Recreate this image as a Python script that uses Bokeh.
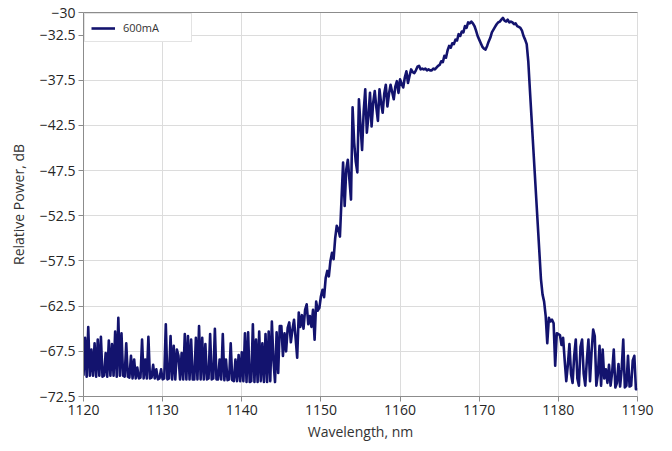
import numpy as np
from bokeh.plotting import figure
from bokeh.models import ColumnDataSource, FixedTicker, Legend, LegendItem, LinearAxis
from bokeh.embed import file_html
from bokeh.resources import INLINE

start_nm = 1120.0
step_nm = 0.2

# 1120.0 - 1144.8 nm : noise floor
noise_floor_db = [
    -70.2, -66.0, -70.3, -64.8, -70.2,
    -67.3, -70.2, -66.6, -70.3, -66.2,
    -70.2, -65.9, -70.3, -70.2, -67.7,
    -70.3, -66.3, -70.2, -66.7, -70.2,
    -65.3, -70.3, -63.8, -70.2, -65.5,
    -70.2, -70.3, -66.6, -70.3, -70.4,
    -68.0, -70.5, -68.4, -70.5, -69.3,
    -70.5, -70.4, -66.2, -70.5, -68.4,
    -70.5, -65.9, -70.5, -70.4, -69.0,
    -70.5, -69.5, -70.6, -70.5, -69.5,
    -70.6, -70.5, -64.5, -70.6, -70.5,
    -65.8, -70.6, -66.9, -70.6, -67.3,
    -68.0, -70.6, -67.7, -70.6, -65.6,
    -70.6, -65.8, -70.6, -66.2, -70.6,
    -70.6, -66.0, -70.6, -64.7, -70.6,
    -66.0, -70.6, -66.7, -70.6, -70.5,
    -65.6, -70.6, -70.5, -65.0, -70.6,
    -70.6, -68.4, -70.6, -65.6, -70.7,
    -68.4, -70.7, -70.6, -66.6, -70.7,
    -70.8, -68.4, -70.8, -67.9, -70.8,
    -67.6, -70.8, -65.5, -70.9, -65.4,
    -70.9, -70.8, -64.5, -70.9, -66.2,
    -70.9, -65.3, -70.8, -66.6, -70.9,
    -65.6, -70.9, -65.3, -70.8, -64.2,
    -68.5, -70.9, -65.4, -69.9, -64.7,
]

# 1145.0 - 1161.8 nm : rising edge with ripples
rising_edge_db = [
    -64.7, -68.0, -65.5, -67.5, -64.9,
    -64.3, -66.5, -65.1, -64.0, -66.0,
    -68.2, -63.2, -64.8, -63.5, -65.0,
    -62.9, -62.3, -64.5, -63.6, -64.8,
    -62.9, -66.2, -62.0, -63.0, -62.7,
    -61.4, -60.7, -61.5, -59.4, -58.6,
    -59.2, -57.5, -56.6, -57.3, -55.0,
    -53.6, -54.0, -54.8, -50.7, -46.6,
    -51.4, -47.4, -46.3, -48.5, -50.7,
    -40.5, -44.4, -46.5, -47.7, -39.6,
    -42.5, -45.2, -41.0, -38.5, -43.3,
    -41.5, -38.9, -42.6, -40.0, -38.7,
    -40.5, -42.0, -38.5, -40.0, -41.1,
    -39.0, -38.0, -40.4, -39.0, -38.0,
    -38.8, -39.6, -38.2, -37.6, -38.9,
    -37.4, -37.9, -38.3, -37.2, -36.5,
    -37.8, -37.0, -36.3, -36.6, -36.7,
]

# 1162.0 - 1176.8 nm : top of the band with two peaks
band_top_db = [
    -36.4, -36.0, -35.9, -36.3, -36.2,
    -36.3, -36.2, -36.4, -36.3, -36.4,
    -36.4, -36.2, -36.3, -36.1, -35.9,
    -35.8, -35.4, -35.5, -34.8, -35.0,
    -34.2, -33.7, -33.9, -33.4, -33.5,
    -33.0, -33.1, -32.4, -32.6, -32.1,
    -32.2, -31.5, -31.7, -31.1, -31.2,
    -31.0, -31.2, -31.5, -32.0, -32.6,
    -33.0, -33.4, -33.8, -34.0, -34.1,
    -33.7, -33.2, -32.8, -32.2, -31.9,
    -31.6, -31.3, -31.1, -31.0, -30.8,
    -30.6, -30.9, -31.0, -30.8, -31.1,
    -31.0, -31.1, -31.3, -31.2, -31.5,
    -31.6, -31.7, -32.0, -32.6, -33.0,
    -33.5, -35.4, -38.5, -41.5, -44.5,
]

# 1177.0 - 1190.0 nm : falling edge and noise floor
falling_edge_db = [
    -47.5, -50.5, -53.5, -56.5, -59.5,
    -61.2, -62.0, -63.6, -66.6, -63.8,
    -64.2, -64.0, -64.4, -69.1, -65.5,
    -65.6, -65.7, -66.8, -66.0, -68.5,
    -70.8, -69.0, -66.7, -70.0, -71.0,
    -68.0, -66.2, -70.5, -71.3, -67.0,
    -66.2, -70.0, -71.3, -68.5, -66.2,
    -70.8, -67.5, -65.1, -65.8, -71.3,
    -70.0, -66.9, -71.3, -67.3, -70.5,
    -69.5, -71.0, -69.0, -71.3, -69.8,
    -67.3, -71.5, -71.0, -68.9, -71.4,
    -69.5, -66.2, -71.5, -71.3, -68.0,
    -71.4, -71.3, -68.5, -68.0, -71.7,
    -71.7,
]

power_db = noise_floor_db + rising_edge_db + band_top_db + falling_edge_db
wavelength_nm = np.round(start_nm + step_nm * np.arange(len(power_db)), 2)

x_ticks = [1120, 1130, 1140, 1150, 1160, 1170, 1180, 1190]
y_ticks = [-30, -32.5, -37.5, -42.5, -47.5, -52.5, -57.5, -62.5, -67.5, -72.5]
series_label = "600mA"

LINE = "#13136e"
FONT = "Open Sans"

source = ColumnDataSource(data=dict(x=wavelength_nm, y=power_db))

p = figure(width=656, height=443, x_range=(1120, 1190), y_range=(-72.5, -30),
           output_backend="svg", toolbar_location=None,
           min_border_left=83, min_border_right=19, min_border_top=12, min_border_bottom=46,
           background_fill_color="white", border_fill_color="white")
p.outline_line_color = "#dcdcdc"

r = p.line("x", "y", source=source, line_color=LINE, line_width=2.6, line_join="round")

for ax in (p.xaxis[0], p.yaxis[0]):
    ax.axis_line_color = "#8c8c8c"
    ax.major_tick_line_color = "#8c8c8c"
    ax.major_tick_out = 5
    ax.major_tick_in = 0
    ax.minor_tick_line_color = None
    ax.major_label_text_font = FONT
    ax.major_label_text_font_size = "14px"
    ax.major_label_text_color = "#262626"
    ax.axis_label_text_font = FONT
    ax.axis_label_text_font_size = "14px"
    ax.axis_label_text_font_style = "normal"
    ax.axis_label_text_color = "#333333"

p.xaxis[0].ticker = FixedTicker(ticks=x_ticks)
p.yaxis[0].ticker = FixedTicker(ticks=y_ticks)
p.xaxis[0].axis_label = "Wavelength, nm"
p.yaxis[0].axis_label = "Relative Power, dB"
p.xaxis[0].axis_label_standoff = 4
p.yaxis[0].axis_label_standoff = 9
p.xaxis[0].major_label_standoff = 3
p.yaxis[0].major_label_standoff = 3

top_axis = LinearAxis(ticker=FixedTicker(ticks=[]), axis_line_color="#8c8c8c",
                      major_tick_line_color=None, minor_tick_line_color=None)
p.add_layout(top_axis, "above")

p.xgrid[0].ticker = FixedTicker(ticks=x_ticks)
p.ygrid[0].ticker = FixedTicker(ticks=y_ticks)
p.xgrid.grid_line_color = "#dcdcdc"
p.ygrid.grid_line_color = "#dcdcdc"

legend = Legend(items=[LegendItem(label=series_label, renderers=[r])],
                location="top_left", margin=1, padding=6, glyph_width=24, glyph_height=12,
                label_width=62, label_standoff=8,
                label_text_font=FONT, label_text_font_size="11px", label_text_color="#333333",
                border_line_color="#c8c8c8", background_fill_color="white", background_fill_alpha=1)
p.add_layout(legend)

open("out.html", "w").write(file_html(p, INLINE))
